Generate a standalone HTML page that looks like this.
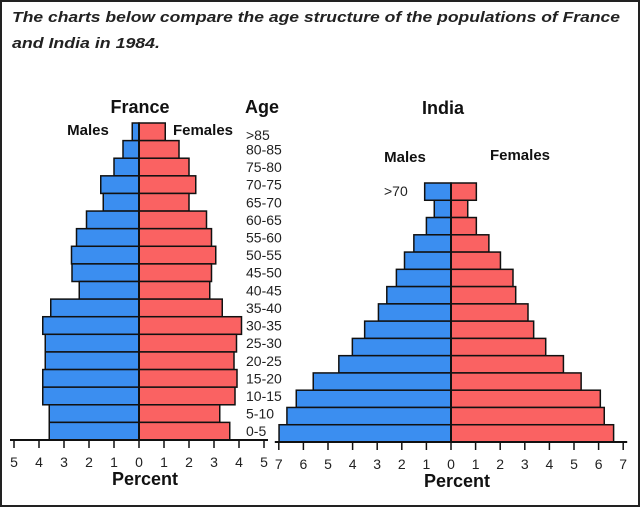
<!DOCTYPE html>
<html><head><meta charset="utf-8"><style>
html,body{margin:0;padding:0;background:#fff;}
svg{display:block;font-family:"Liberation Sans",sans-serif;}
</style></head><body>
<svg id="c" width="640" height="507" viewBox="0 0 640 507">
<rect x="1" y="1" width="638" height="505" fill="#fff" stroke="#222" stroke-width="2"/>
<text x="12" y="22" font-size="15" font-weight="bold" font-style="italic" fill="#222" textLength="608" lengthAdjust="spacingAndGlyphs">The charts below compare the age structure of the populations of France</text>
<text x="12" y="48" font-size="15" font-weight="bold" font-style="italic" fill="#222" textLength="148" lengthAdjust="spacingAndGlyphs">and India in 1984.</text>
<g id="fr"></g>
<g id="in"></g>
</svg>
<script>
const frAges = [">85","80-85","75-80","70-75","65-70","60-65","55-60","50-55","45-50","40-45","35-40","30-35","25-30","20-25","15-20","10-15","5-10","0-5"];
const frMales = [0.27,0.64,1.0,1.53,1.43,2.1,2.5,2.7,2.68,2.39,3.53,3.85,3.75,3.75,3.85,3.85,3.59,3.59];
const frFemales = [1.05,1.6,2.0,2.27,2.0,2.7,2.9,3.07,2.9,2.83,3.33,4.1,3.9,3.8,3.92,3.84,3.23,3.63];
const frTicks = [5,4,3,2,1,0,1,2,3,4,5];
const inAges = [">70","65-70","60-65","55-60","50-55","45-50","40-45","35-40","30-35","25-30","20-25","15-20","10-15","5-10","0-5"];
const inMales = [1.07,0.68,1.0,1.51,1.89,2.22,2.61,2.95,3.51,4.01,4.56,5.6,6.29,6.67,6.99];
const inFemales = [1.03,0.68,1.03,1.54,2.01,2.52,2.63,3.13,3.36,3.85,4.57,5.29,6.07,6.23,6.61];
const inTicks = [7,6,5,4,3,2,1,0,1,2,3,4,5,6,7];
const NS="http://www.w3.org/2000/svg";
function mk(parent,tag,attrs,txt){const e=document.createElementNS(NS,tag);for(const k in attrs)e.setAttribute(k,attrs[k]);if(txt!==undefined)e.textContent=txt;parent.appendChild(e);return e;}
function pyramid(g,cfg,ages,males,females,ticks){
  const n=ages.length, rh=(cfg.axisY-cfg.top)/n;
  const sx=v=>v*cfg.unit;
  for(let i=0;i<n;i++){
    const y=cfg.top+i*rh;
    const m=mk(g,'rect',{x:cfg.cx-sx(males[i]),y:y,width:sx(males[i]),height:rh,fill:'#3b8ef0',stroke:'#111','stroke-width':1.5});
    
    
    const f=mk(g,'rect',{x:cfg.cx,y:y,width:sx(females[i]),height:rh,fill:'#fa6262',stroke:'#111','stroke-width':1.5});
    
    
  }
  const c=mk(g,'line',{x1:cfg.cx,x2:cfg.cx,y1:cfg.top,y2:cfg.axisY,stroke:'#111','stroke-width':2});
  
  
  const half=(ticks.length-1)/2;
  const ax=mk(g,'line',{x1:cfg.cx-sx(half)-4,x2:cfg.cx+sx(half)+4,y1:cfg.axisY,y2:cfg.axisY,stroke:'#111','stroke-width':2});
  
  
  ticks.forEach((t,j)=>{
    const x=cfg.cx+sx(j-half);
    const tl=mk(g,'line',{x1:x,x2:x,y1:cfg.axisY,y2:cfg.axisY+8,stroke:'#111','stroke-width':1.5});
    
    
    const tx=mk(g,'text',{x:x,y:cfg.axisY+27,'font-size':14,'text-anchor':'middle',fill:'#222'},String(t));
    
    
  });
  const p=mk(g,'text',{x:cfg.cx+6,y:cfg.axisY+45,'font-size':18,'font-weight':'bold','text-anchor':'middle',fill:'#111'},'Percent');
  
  
  return rh;
}
const fr=document.getElementById('fr');
const frRh=pyramid(fr,{cx:139,unit:25,top:123,axisY:440},frAges,frMales,frFemales,frTicks);
frAges.forEach((a,i)=>{
  const t=mk(fr,'text',{x:246,y:123+i*frRh+frRh/2+5+(i===0?3:0),'font-size':14,fill:'#222'},a);
  
  
});
[['France',140,113,18,'country-title'],['Age',262,113,18,'age-title'],['Males',88,135,15,'males-label'],['Females',203,135,15,'females-label']].forEach(d=>{
  const t=mk(fr,'text',{x:d[1],y:d[2],'font-size':d[3],'font-weight':'bold','text-anchor':'middle',fill:'#111'},d[0]);
  
  
});
const ind=document.getElementById('in');
pyramid(ind,{cx:451,unit:24.6,top:183,axisY:442},inAges,inMales,inFemales,inTicks);
[['India',443,114,18,'country-title'],['Males',405,162,15,'males-label'],['Females',520,160,15,'females-label']].forEach(d=>{
  const t=mk(ind,'text',{x:d[1],y:d[2],'font-size':d[3],'font-weight':'bold','text-anchor':'middle',fill:'#111'},d[0]);
  
  
});
const l70=mk(ind,'text',{x:384,y:196,'font-size':14,fill:'#222'},'>70');


</script>
</body></html>
